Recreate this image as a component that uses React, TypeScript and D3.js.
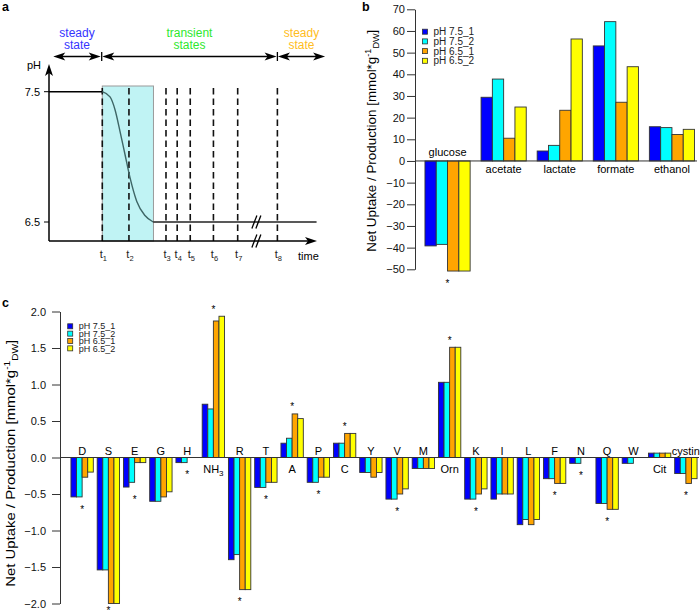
import React, { useRef, useEffect } from 'react';
import * as d3 from 'd3';

// series shared by panels b and c
const seriesNames = ["pH 7.5_1", "pH 7.5_2", "pH 6.5_1", "pH 6.5_2"];
const seriesColors = ["#0000ff", "#00ffff", "#ffa500", "#ffff00"];

// panel a: pH shift schematic
const phCurveT = [0, 2, 2.29, 2.48, 2.66, 2.85, 3.04, 3.29, 3.6, 3.91, 10.04];
const phCurveV = [7.5, 7.5, 7.46, 7.36, 7.2, 7.02, 6.84, 6.66, 6.55, 6.5, 6.5];
const phTicks = [6.5, 7.5];
const sampleLabels = ["1", "2", "3", "4", "5", "6", "7", "8"];
const sampleTimes = [2, 3, 4.39, 4.81, 5.3, 6.17, 7.08, 8.57];
const shiftWindow = [2, 3.92];
const phaseLines = [["steady", "state"], ["transient", "states"], ["steady", "state"]];
const phaseColors = ["#3535ff", "#2ee82e", "#ffbd22"];
const phaseStarts = [0.16, 2.0, 8.59];
const phaseEnds = [1.94, 8.54, 10.36];
const breakTime = 7.8;

// panel b: fermentation products [mmol/gDW]
const productNames = ["glucose", "acetate", "lactate", "formate", "ethanol"];
const productPH75_1 = [-39.2, 29.4, 4.6, 53.1, 15.8];
const productPH75_2 = [-38.5, 37.8, 7.2, 64.3, 15.4];
const productPH65_1 = [-50.8, 10.5, 23.4, 27.1, 12.2];
const productPH65_2 = [-50.8, 24.9, 56.3, 43.5, 14.6];
const productStars = ["glucose"];
const productTicks = [-50, -40, -30, -20, -10, 0, 10, 20, 30, 40, 50, 60, 70];

// panel c: amino acids etc. [mmol/gDW]
const aminoNames = ["D", "S", "E", "G", "H", "NH3", "R", "T", "A", "P", "C", "Y", "V", "M", "Orn", "K", "I", "L", "F", "N", "Q", "W", "Cit", "cystin"];
const aminoPH75_1 = [-0.54, -1.54, -0.405, -0.6, -0.07, 0.73, -1.4, -0.41, 0.196, -0.34, 0.196, -0.205, -0.57, -0.15, 1.03, -0.57, -0.57, -0.92, -0.29, -0.08, -0.63, -0.08, 0.06, -0.22];
const aminoPH75_2 = [-0.54, -1.54, -0.34, -0.6, -0.07, 0.665, -1.33, -0.41, 0.264, -0.34, 0.196, -0.205, -0.57, -0.15, 1.03, -0.57, -0.5, -0.85, -0.29, -0.08, -0.63, -0.08, 0.06, -0.22];
const aminoPH65_1 = [-0.27, -2.0, -0.07, -0.54, 0, 1.87, -1.81, -0.34, 0.597, -0.27, 0.33, -0.27, -0.5, -0.15, 1.51, -0.5, -0.5, -0.92, -0.355, 0, -0.71, 0, 0.06, -0.355];
const aminoPH65_2 = [-0.2, -2.0, -0.07, -0.47, 0, 1.935, -1.81, -0.34, 0.533, -0.27, 0.33, -0.205, -0.43, -0.15, 1.51, -0.43, -0.5, -0.85, -0.355, 0, -0.71, 0, 0.06, -0.29];
const aminoStars = ["D", "S", "E", "H", "NH3", "R", "T", "A", "P", "C", "V", "Orn", "K", "F", "N", "Q", "cystin"];
const aminoTicks = [-2, -1.5, -1, -0.5, 0, 0.5, 1, 1.5, 2];

const FONT = "'Liberation Sans', Arial, Helvetica, sans-serif";
const H = 616;

function arrowHead(g, x, y, dir) {
  // dart shaped head, tip at (x, y)
  const L = 12, W = 4, N = 9;
  let d;
  if (dir === "left") d = `M${x},${y}L${x + L},${y - W}L${x + N},${y}L${x + L},${y + W}Z`;
  else if (dir === "right") d = `M${x},${y}L${x - L},${y - W}L${x - N},${y}L${x - L},${y + W}Z`;
  else d = `M${x},${y}L${x - W},${y + L}L${x},${y + N}L${x + W},${y + L}Z`;
  g.append("path").attr("d", d).attr("fill", "#000");
}

function drawBars(g, names, series, x, y, stars, labelAbove, labelBelow, starSize) {
  const inner = d3.scaleBand().domain(seriesNames).range([0, x.bandwidth()]);
  const y0 = y(0);
  names.forEach((name, i) => {
    const vals = series.map(s => s[i]);
    const grp = g.append("g").attr("transform", `translate(${x(name)},0)`);
    vals.forEach((v, k) => {
      if (v === 0) return;
      grp.append("rect")
        .attr("x", inner(seriesNames[k]))
        .attr("y", Math.min(y(v), y0))
        .attr("width", inner.bandwidth())
        .attr("height", Math.abs(y(v) - y0))
        .attr("fill", seriesColors[k])
        .attr("stroke", "#333")
        .attr("stroke-width", 0.9);
    });
    const cx = x(name) + x.bandwidth() / 2;
    const positive = d3.sum(vals) > 0;
    const lab = g.append("text")
      .attr("x", cx)
      .attr("y", positive ? y0 + labelBelow : y0 - labelAbove)
      .attr("text-anchor", "middle")
      .attr("font-size", 11);
    if (name === "NH3") {
      lab.append("tspan").text("NH");
      lab.append("tspan").attr("font-size", 8).attr("dy", 3).text("3");
    } else {
      lab.text(name);
    }
    if (stars.includes(name)) {
      // asterisk sits ~10px beyond the longest bar; keep it inside the picture
      let sy = positive ? y(d3.max(vals)) - 9.5 + 5.8 : y(d3.min(vals)) + 10 + 5.8;
      sy = Math.min(sy, H - 2.5);
      g.append("text")
        .attr("x", cx)
        .attr("y", sy)
        .attr("text-anchor", "middle")
        .attr("font-size", starSize)
        .text("*");
    }
  });
}

function drawLegend(g, x, y0, step, fontSize) {
  seriesNames.forEach((name, k) => {
    const cy = y0 + k * step;
    g.append("rect")
      .attr("x", x).attr("y", cy - 2.5)
      .attr("width", 5).attr("height", 5)
      .attr("fill", seriesColors[k])
      .attr("stroke", "#333").attr("stroke-width", 0.8);
    g.append("text")
      .attr("x", x + 11).attr("y", cy)
      .attr("dy", "0.35em")
      .attr("font-size", fontSize)
      .attr("fill", "#222")
      .text(name);
  });
}

function yLabel(g, x, y, size, length) {
  const t = g.append("text")
    .attr("transform", `translate(${x},${y}) rotate(-90)`)
    .attr("text-anchor", "middle")
    .attr("font-size", size)
    .attr("textLength", length)
    .attr("lengthAdjust", "spacingAndGlyphs");
  t.append("tspan").text("Net Uptake / Production [mmol*g");
  t.append("tspan").attr("font-size", size * 0.68).attr("dy", -size * 0.4).text("-1");
  t.append("tspan").attr("font-size", size * 0.68).attr("dy", size * 0.65).text("DW");
  t.append("tspan").attr("dy", -size * 0.25).text("]");
}

function styleAxis(ax, size) {
  ax.attr("font-family", FONT).attr("font-size", size);
  ax.selectAll("path, line").attr("stroke", "#333");
  ax.selectAll("text").attr("fill", "#111");
}

function App() {
  const ref = useRef(null);

  useEffect(() => {
    document.body.style.margin = "0";
    const svg = d3.select(ref.current);
    svg.selectAll("*").remove();
    svg.attr("font-family", FONT);

    // panel letters
    [["a", 2, 11], ["b", 362, 11], ["c", 2, 307]].forEach(([l, x, y]) => {
      svg.append("text").attr("x", x).attr("y", y).attr("font-size", 12.5).attr("font-weight", "bold").text(l);
    });

    // ---------- panel a ----------
    const aX = d3.scaleLinear().domain([0, 10]).range([49, 315.5]);
    const aY = d3.scaleLinear().domain([6.5, 7.5]).range([222, 91.7]);
    const axisBase = 241;
    const ga = svg.append("g");

    ga.append("rect")
      .attr("x", aX(shiftWindow[0])).attr("y", 86)
      .attr("width", aX(shiftWindow[1]) - aX(shiftWindow[0]))
      .attr("height", axisBase - 86)
      .attr("fill", "#c0f3f4").attr("stroke", "#9a9a9a").attr("stroke-width", 1);

    sampleTimes.forEach(t => {
      ga.append("line")
        .attr("x1", aX(t)).attr("x2", aX(t))
        .attr("y1", 88).attr("y2", axisBase)
        .attr("stroke", "#111").attr("stroke-width", 1.6)
        .attr("stroke-dasharray", "6.5,4");
    });

    const pts = phCurveT.map((t, i) => [aX(t), aY(phCurveV[i])]);
    const ln = d3.line().curve(d3.curveMonotoneX);
    ga.append("path").attr("d", ln(pts.slice(0, 2))).attr("fill", "none").attr("stroke", "#000").attr("stroke-width", 1.5);
    ga.append("path").attr("d", ln(pts.slice(1, 10))).attr("fill", "none").attr("stroke", "#3e6666").attr("stroke-width", 1.4);
    ga.append("path").attr("d", ln(pts.slice(9))).attr("fill", "none").attr("stroke", "#222").attr("stroke-width", 1.5);

    // axes
    ga.append("line").attr("x1", 49).attr("x2", 49).attr("y1", axisBase).attr("y2", 72).attr("stroke", "#000").attr("stroke-width", 1.5);
    arrowHead(ga, 49, 64, "up");
    ga.append("line").attr("x1", 49).attr("x2", 310).attr("y1", axisBase).attr("y2", axisBase).attr("stroke", "#000").attr("stroke-width", 1.5);
    arrowHead(ga, 317, axisBase, "right");
    phTicks.forEach(v => {
      ga.append("line").attr("x1", 44).attr("x2", 49).attr("y1", aY(v)).attr("y2", aY(v)).attr("stroke", "#000");
      ga.append("text").attr("x", 40).attr("y", aY(v)).attr("dy", "0.35em").attr("text-anchor", "end").attr("font-size", 11).text(v.toFixed(1));
    });
    ga.append("text").attr("x", 27).attr("y", 69).attr("font-size", 11).text("pH");
    ga.append("text").attr("x", 298).attr("y", 259.5).attr("font-size", 11).text("time");
    sampleTimes.forEach((t, i) => {
      const tx = ga.append("text").attr("x", aX(t) + 1).attr("y", 258).attr("text-anchor", "middle").attr("font-size", 11).attr("fill", "#222");
      tx.append("tspan").text("t");
      tx.append("tspan").attr("font-size", 7.5).attr("dy", 3).text(sampleLabels[i]);
    });

    // axis break marks
    [aY(6.5), axisBase].forEach(by => {
      [-2.5, 1.5].forEach(off => {
        const bx = aX(breakTime) + off;
        ga.append("line").attr("x1", bx - 2.5).attr("x2", bx + 2.5).attr("y1", by + 6.5).attr("y2", by - 6.5)
          .attr("stroke", "#000").attr("stroke-width", 1.3);
      });
    });

    // phase arrows
    const arrowY = 56.5;
    phaseLines.forEach((lines, i) => {
      const x1 = aX(phaseStarts[i]), x2 = aX(phaseEnds[i]);
      ga.append("line").attr("x1", x1 + 6).attr("x2", x2 - 6).attr("y1", arrowY).attr("y2", arrowY).attr("stroke", "#000").attr("stroke-width", 1.5);
      arrowHead(ga, x1, arrowY, "left");
      arrowHead(ga, x2, arrowY, "right");
      const cx = (x1 + x2) / 2;
      lines.forEach((s, j) => {
        ga.append("text").attr("x", cx).attr("y", 37 + j * 11.8).attr("text-anchor", "middle")
          .attr("font-size", 12).attr("fill", phaseColors[i]).text(s);
      });
    });
    [aX(phaseEnds[0]) + 1, aX(sampleTimes[7])].forEach(tx => {
      ga.append("line").attr("x1", tx).attr("x2", tx).attr("y1", arrowY - 4.5).attr("y2", arrowY + 4.5).attr("stroke", "#000").attr("stroke-width", 1.3);
    });

    // ---------- panel b ----------
    const gb = svg.append("g");
    const bX = d3.scaleBand().domain(productNames).range([419.5, 700]).paddingInner(0.195).paddingOuter(0.0975);
    const bY = d3.scaleLinear().domain([-50, 70]).range([269.3, 9.3]);
    const bAxis = gb.append("g").attr("transform", "translate(415,0)")
      .call(d3.axisLeft(bY).tickValues(productTicks).tickSize(8).tickPadding(2).tickSizeOuter(0));
    styleAxis(bAxis, 11);
    drawBars(gb, productNames, [productPH75_1, productPH75_2, productPH65_1, productPH65_2], bX, bY, productStars, 4.5, 12.3, 10);
    gb.append("line").attr("x1", 415).attr("x2", 697).attr("y1", bY(0)).attr("y2", bY(0)).attr("stroke", "#333");
    drawLegend(gb, 422.5, 31.7, 9.7, 10);
    yLabel(gb, 375.7, 140.7, 12.5, 222);

    // ---------- panel c ----------
    const gc = svg.append("g");
    const cX = d3.scaleBand().domain(aminoNames).range([69, 699]).paddingInner(0.148).paddingOuter(0.074);
    const cY = d3.scaleLinear().domain([-2, 2]).range([603.5, 311.5]);
    const cAxis = gc.append("g").attr("transform", "translate(60,0)")
      .call(d3.axisLeft(cY).tickValues(aminoTicks).tickFormat(d3.format(".1f")).tickSize(8).tickPadding(6).tickSizeOuter(0));
    styleAxis(cAxis, 11);
    drawBars(gc, aminoNames, [aminoPH75_1, aminoPH75_2, aminoPH65_1, aminoPH65_2], cX, cY, aminoStars, 2.7, 15.3, 10);
    gc.append("line").attr("x1", 60).attr("x2", 699).attr("y1", cY(0)).attr("y2", cY(0)).attr("stroke", "#333");
    drawLegend(gc, 67.7, 326.3, 7.35, 9);
    yLabel(gc, 15, 463.3, 12, 247);
  }, []);

  return <svg ref={ref} width={700} height={H} style={{ display: "block" }}></svg>;
}

export default App;
